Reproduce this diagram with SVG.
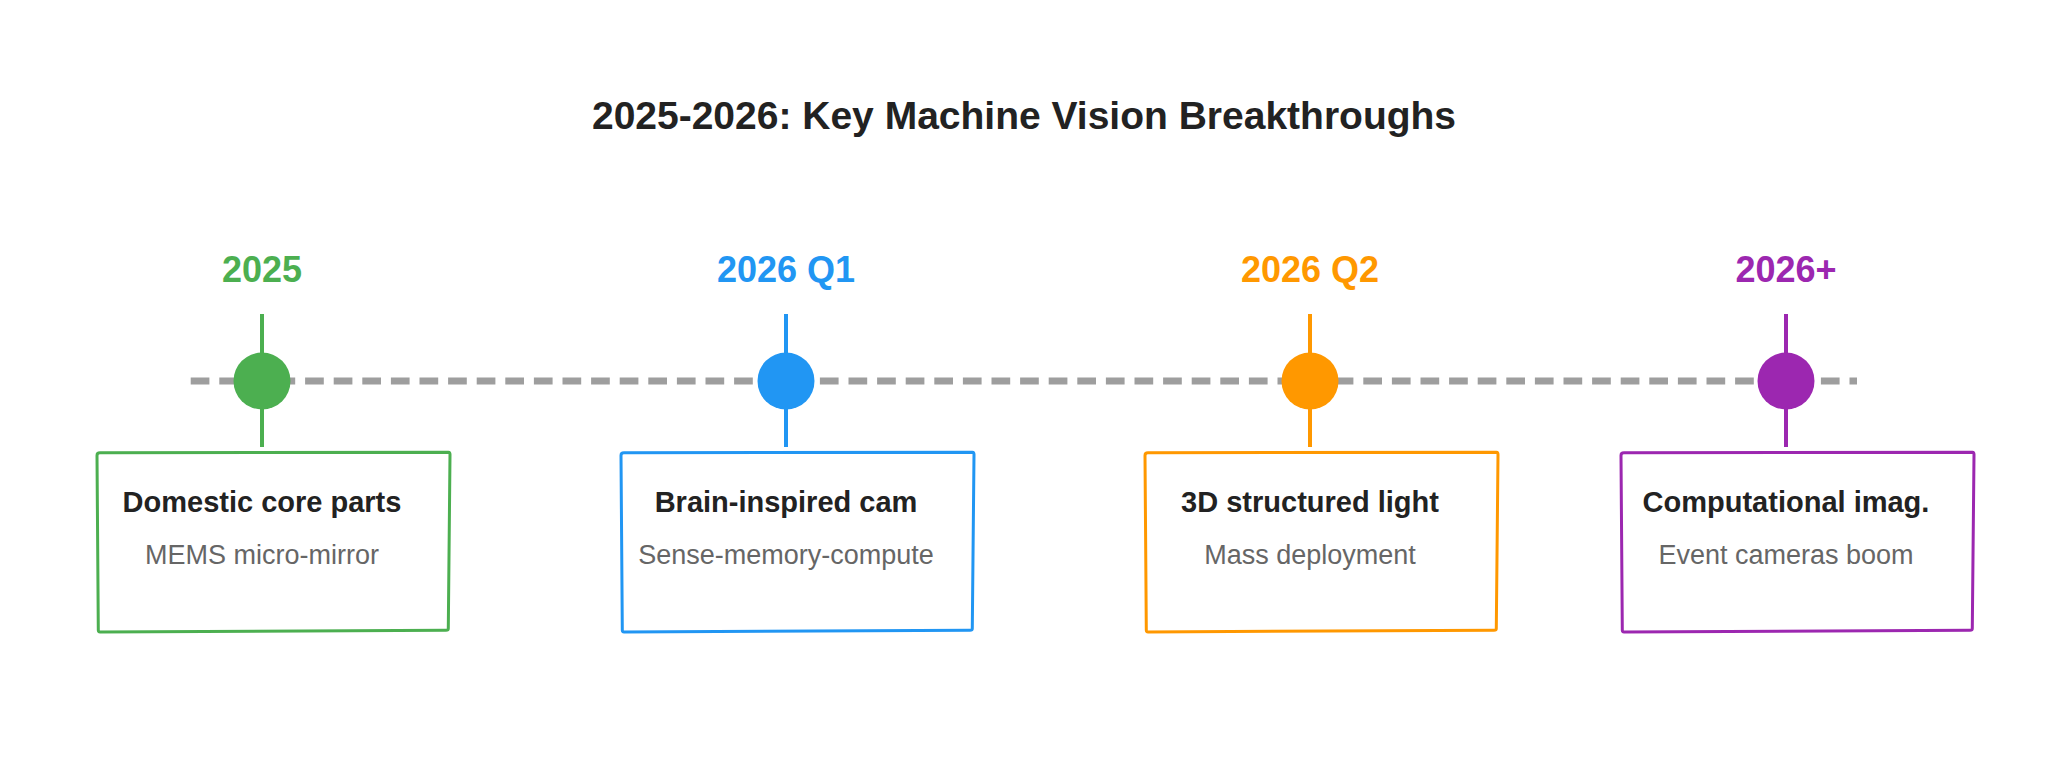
<svg xmlns="http://www.w3.org/2000/svg" width="2048" height="762" viewBox="0 0 2048 762">
  <defs>
    <style>
      .title { font-family: "Liberation Sans", Arial, sans-serif; font-weight: bold; font-size: 39px; fill: #222222; text-anchor: middle; }
      .year { font-family: "Liberation Sans", Arial, sans-serif; font-weight: bold; font-size: 36px; text-anchor: middle; }
      .head { font-family: "Liberation Sans", Arial, sans-serif; font-weight: bold; font-size: 29px; fill: #222222; text-anchor: middle; }
      .sub { font-family: "Liberation Sans", Arial, sans-serif; font-size: 27px; fill: #666666; text-anchor: middle; }
      .box { fill: #ffffff; stroke-width: 3; stroke-linejoin: round; stroke-linecap: round; }
      .axis { fill: none; stroke: #9e9e9e; stroke-width: 7; stroke-dasharray: 18.7 9.9; }
      .tick { fill: none; stroke-width: 4; }
      .green { stroke: #4caf50; fill: #4caf50; }
      .blue { stroke: #2196f3; fill: #2196f3; }
      .orange { stroke: #ff9800; fill: #ff9800; }
      .purple { stroke: #9c27b0; fill: #9c27b0; }
      .dot { stroke: none; }
    </style>
    <path id="boxshape" d="M0.5,3.5 Q0.5,0.8 3.5,0.8 L352,0.2 Q353.5,0.2 353.5,2.5 L351.8,176.5 Q351.8,178.2 349.5,178.2 L3.5,180 Q1.8,180 1.8,178 Z"/>
  </defs>

  <rect x="0" y="0" width="2048" height="762" fill="#ffffff"/>

  <text class="title" x="1024" y="129">2025-2026: Key Machine Vision Breakthroughs</text>

  <g id="connectors">
    <line class="axis" x1="190.7" y1="381" x2="1857" y2="381"/>
    <line class="tick green" x1="262" y1="314" x2="262" y2="447"/>
    <line class="tick blue" x1="786" y1="314" x2="786" y2="447"/>
    <line class="tick orange" x1="1310" y1="314" x2="1310" y2="447"/>
    <line class="tick purple" x1="1786" y1="314" x2="1786" y2="447"/>
  </g>

  <g id="node-2025">
    <text class="year" x="262" y="282" fill="#4caf50">2025</text>
    <circle class="dot" cx="262" cy="381" r="28.5" fill="#4caf50"/>
    <use href="#boxshape" class="box" x="96.5" y="452" stroke="#4caf50" fill="#ffffff"/>
    <text class="head" x="262" y="512">Domestic core parts</text>
    <text class="sub" x="262" y="564">MEMS micro-mirror</text>
  </g>

  <g id="node-2026q1">
    <text class="year" x="786" y="282" fill="#2196f3">2026 Q1</text>
    <circle class="dot" cx="786" cy="381" r="28.5" fill="#2196f3"/>
    <use href="#boxshape" class="box" x="620.5" y="452" stroke="#2196f3" fill="#ffffff"/>
    <text class="head" x="786" y="512">Brain-inspired cam</text>
    <text class="sub" x="786" y="564">Sense-memory-compute</text>
  </g>

  <g id="node-2026q2">
    <text class="year" x="1310" y="282" fill="#ff9800">2026 Q2</text>
    <circle class="dot" cx="1310" cy="381" r="28.5" fill="#ff9800"/>
    <use href="#boxshape" class="box" x="1144.5" y="452" stroke="#ff9800" fill="#ffffff"/>
    <text class="head" x="1310" y="512">3D structured light</text>
    <text class="sub" x="1310" y="564">Mass deployment</text>
  </g>

  <g id="node-2026plus">
    <text class="year" x="1786" y="282" fill="#9c27b0">2026+</text>
    <circle class="dot" cx="1786" cy="381" r="28.5" fill="#9c27b0"/>
    <use href="#boxshape" class="box" x="1620.5" y="452" stroke="#9c27b0" fill="#ffffff"/>
    <text class="head" x="1786" y="512">Computational imag.</text>
    <text class="sub" x="1786" y="564">Event cameras boom</text>
  </g>
</svg>
